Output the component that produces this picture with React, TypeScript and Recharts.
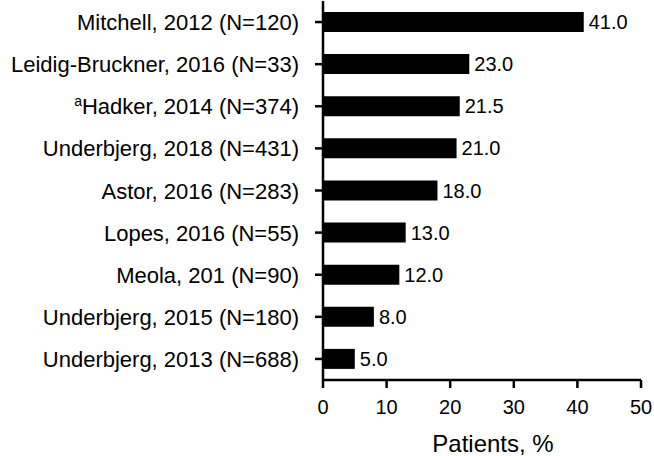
import { BarChart, Bar, XAxis, YAxis, LabelList, Label } from 'recharts';

const studies = [
  'Mitchell, 2012 (N=120)',
  'Leidig-Bruckner, 2016 (N=33)',
  'aHadker, 2014 (N=374)',
  'Underbjerg, 2018 (N=431)',
  'Astor, 2016 (N=283)',
  'Lopes, 2016 (N=55)',
  'Meola, 201 (N=90)',
  'Underbjerg, 2015 (N=180)',
  'Underbjerg, 2013 (N=688)',
];
const patients = [41.0, 23.0, 21.5, 21.0, 18.0, 13.0, 12.0, 8.0, 5.0];
const xTicks = [0, 10, 20, 30, 40, 50];

const data = studies.map((name, i) => ({ name, value: patients[i] }));

const FONT = '"Liberation Sans", Arial, sans-serif';

// superscript "a" for the Hadker row
const StudyTick = ({ x, y, payload }: any) => {
  const label: string = payload.value;
  const sup = label.startsWith('aHadker');
  const base = y + 8;
  return (
    <text x={x} y={base} textAnchor="end" fontSize={22} fill="#000" fontFamily={FONT}>
      {sup ? (
        <>
          <tspan fontSize={14} dy={-8}>a</tspan>
          <tspan dy={8}>{label.slice(1)}</tspan>
        </>
      ) : label}
    </text>
  );
};

export default function App() {
  return (
    <div style={{ position: 'absolute', left: 0, top: 0, background: '#fff' }}>
      <BarChart
        width={654}
        height={456}
        data={data}
        layout="vertical"
        margin={{ top: 1, right: 13, left: 0, bottom: 0 }}
        style={{ fontFamily: FONT }}
      >
        <XAxis
          type="number"
          domain={[0, 50]}
          ticks={xTicks}
          height={76}
          tickSize={8}
          tickMargin={12}
          axisLine={{ stroke: '#000', strokeWidth: 2.5 }}
          tickLine={{ stroke: '#000', strokeWidth: 2.5 }}
          tick={{ fill: '#000', fontSize: 20 }}
        >
          <Label value="Patients, %" position="insideBottom" offset={4} dx={11} fill="#000" fontSize={24} />
        </XAxis>
        <YAxis
          type="category"
          dataKey="name"
          width={323}
          tickSize={8}
          tickMargin={16}
          axisLine={{ stroke: '#000', strokeWidth: 2.5 }}
          tickLine={{ stroke: '#000', strokeWidth: 2.5 }}
          tick={<StudyTick />}
          interval={0}
        />
        <Bar dataKey="value" fill="#000" barSize={20} isAnimationActive={false}>
          <LabelList
            dataKey="value"
            position="right"
            offset={5}
            formatter={(v: any) => Number(v).toFixed(1)}
            fill="#000"
            fontSize={20}
          />
        </Bar>
      </BarChart>
    </div>
  );
}
